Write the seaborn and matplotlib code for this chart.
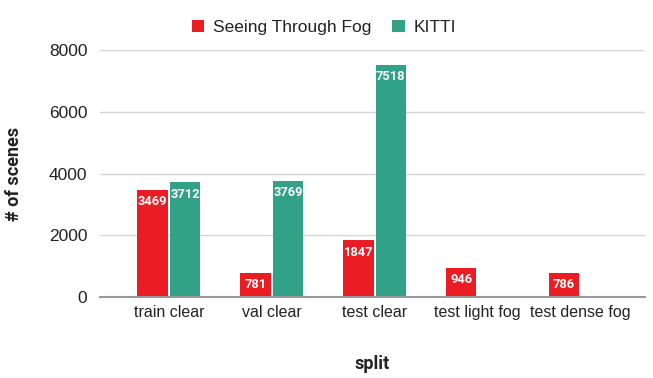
import matplotlib
matplotlib.use("Agg")
import matplotlib.pyplot as plt
import seaborn as sns
import pandas as pd
import numpy as np

categories = ["train clear", "val clear", "test clear", "test light fog", "test dense fog"]
stf_values = [3469, 781, 1847, 946, 786]
kitti_values = [3712, 3769, 7518, np.nan, np.nan]
series_names = ["Seeing Through Fog", "KITTI"]
y_ticks = [0, 2000, 4000, 6000, 8000]

colors = ["#EC1C24", "#31A287"]

df = pd.DataFrame({
    "split": categories * 2,
    "count": stf_values + kitti_values,
    "series": [series_names[0]] * len(categories) + [series_names[1]] * len(categories),
})

sns.set_theme(style="white")
plt.rcParams["font.family"] = ["Liberation Sans", "DejaVu Sans"]

fig = plt.figure(figsize=(6.53, 3.78), dpi=100)
ax = fig.add_axes([100 / 653, 81 / 378, 545 / 653, 247 / 378])

sns.barplot(data=df, x="split", y="count", hue="series", palette=colors,
            order=categories, hue_order=series_names, width=0.63, gap=0.06,
            ax=ax, legend=True, saturation=1, edgecolor="none")

for cont in ax.containers:
    for patch, val in zip(cont.patches, cont.datavalues):
        if np.isnan(val):
            continue
        ax.annotate(f"{int(val)}", (patch.get_x() + patch.get_width() / 2, val),
                    xytext=(0, -4), textcoords="offset points", ha="center", va="top",
                    color="white", fontsize=9.3, fontweight="bold",
                    family=["Roboto", "DejaVu Sans"])

ax.set_ylim(0, 8000)
ax.set_xlim(-0.67, 4.63)
ax.set_yticks(y_ticks)
ax.set_yticklabels([str(t) for t in y_ticks], fontsize=12.5, color="#222222")
ax.tick_params(axis="x", labelsize=11.5, colors="#222222", length=0, pad=6)
ax.tick_params(axis="y", length=0, pad=9)
ax.grid(axis="y", color="#d6d6d6", linewidth=1)
ax.set_axisbelow(True)
for s in ["top", "right", "left"]:
    ax.spines[s].set_visible(False)
ax.spines["bottom"].set_color("#999999")
ax.spines["bottom"].set_linewidth(1.5)

ax.set_xlabel("split", fontsize=13, fontweight="bold", labelpad=25,
              family=["Roboto", "DejaVu Sans"], color="#222222")
ax.set_ylabel("# of scenes", fontsize=13, fontweight="bold", labelpad=19,
              family=["Roboto", "DejaVu Sans"], color="#222222")

leg = ax.legend(loc="upper center", bbox_to_anchor=(0.5 - 0.089, 1.0 + 46 / 247),
                ncol=2, frameon=False, fontsize=12.5, handlelength=0.7,
                handleheight=0.7, handletextpad=0.5, columnspacing=1.2)
for t in leg.get_texts():
    t.set_color("#222222")

fig.savefig("out.png", dpi=100)
